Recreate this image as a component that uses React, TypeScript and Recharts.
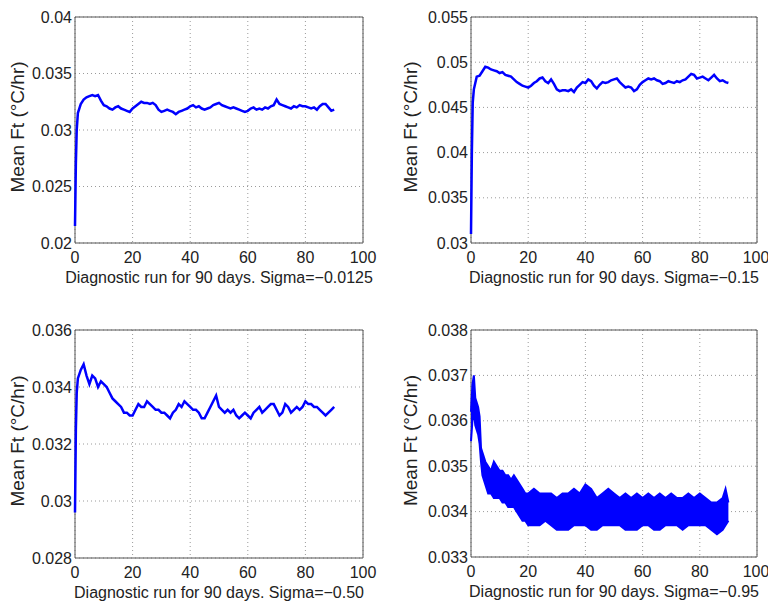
import { LineChart, Line, ComposedChart, Area, XAxis, YAxis, CartesianGrid, ReferenceArea } from "recharts";

// days sampled for the three single-line panels (denser at the start ramp)
const DAYS = [
  0, 0.3, 0.6, 1, 2, 3, 4, 5, 6, 7, 8, 9, 10,
  11, 12, 13, 14, 15, 16, 17, 18, 19, 20,
  21, 22, 23, 24, 25, 26, 27, 28, 29, 30,
  31, 32, 33, 34, 35, 36, 37, 38, 39, 40,
  41, 42, 43, 44, 45, 46, 47, 48, 49, 50,
  51, 52, 53, 54, 55, 56, 57, 58, 59, 60,
  61, 62, 63, 64, 65, 66, 67, 68, 69, 70,
  71, 72, 73, 74, 75, 76, 77, 78, 79, 80,
  81, 82, 83, 84, 85, 86, 87, 88, 89, 90,
];

const SIGMA_0125 = [
  0.0215, 0.027, 0.030, 0.0315, 0.0323, 0.0327, 0.0329, 0.0330, 0.0331, 0.0330, 0.0331, 0.0326, 0.0322,
  0.0321, 0.0319, 0.0318, 0.0320, 0.0321, 0.0319, 0.0318, 0.0317, 0.0316, 0.0319,
  0.0321, 0.0323, 0.0325, 0.0324, 0.0324, 0.0323, 0.0324, 0.0322, 0.0318, 0.0316,
  0.0317, 0.0318, 0.0317, 0.0316, 0.0314, 0.0316, 0.0317, 0.0318, 0.0319, 0.0321,
  0.0322, 0.0320, 0.0321, 0.0319, 0.0318, 0.0319, 0.0320, 0.0322, 0.0323, 0.0324,
  0.0322, 0.0321, 0.0320, 0.0319, 0.0320, 0.0319, 0.0318, 0.0317, 0.0316, 0.0317,
  0.0319, 0.0320, 0.0318, 0.0319, 0.0318, 0.0320, 0.0319, 0.0321, 0.0322, 0.0327,
  0.0323, 0.0322, 0.0321, 0.0320, 0.0319, 0.0321, 0.0320, 0.0322, 0.0321, 0.0321,
  0.0320, 0.0319, 0.0320, 0.0318, 0.0321, 0.0323, 0.0323, 0.0320, 0.0317, 0.0318,
];

const SIGMA_15 = [
  0.031, 0.040, 0.0455, 0.0470, 0.0484, 0.0485, 0.0490, 0.0495, 0.0494, 0.0492, 0.0491, 0.0490, 0.0488,
  0.0489, 0.0486, 0.0485, 0.0484, 0.0481, 0.0478, 0.0476, 0.0474, 0.0473, 0.0472,
  0.0474, 0.0477, 0.0479, 0.0482, 0.0483, 0.0479, 0.0477, 0.0481, 0.0476, 0.0470,
  0.0468, 0.0469, 0.0469, 0.0468, 0.0470, 0.0467, 0.0472, 0.0475, 0.0478, 0.0477,
  0.0481, 0.0479, 0.0474, 0.0471, 0.0475, 0.0478, 0.0477, 0.0478, 0.0480, 0.0481,
  0.0482, 0.0478, 0.0475, 0.0472, 0.0473, 0.0472, 0.0468, 0.0470, 0.0475, 0.0478,
  0.0480, 0.0482, 0.0481, 0.0482, 0.0480, 0.0479, 0.0476, 0.0477, 0.0479, 0.0478,
  0.0477, 0.0479, 0.0478, 0.0480, 0.0481, 0.0484, 0.0487, 0.0486, 0.0482, 0.0483,
  0.0484, 0.0482, 0.0480, 0.0483, 0.0486, 0.0482, 0.0479, 0.0480, 0.0478, 0.0477,
];

const SIGMA_50 = [
  0.0296, 0.0325, 0.0338, 0.0343, 0.0346, 0.0348, 0.0344, 0.0341, 0.0344, 0.0343, 0.0340, 0.0342, 0.0341,
  0.0340, 0.0338, 0.0336, 0.0335, 0.0334, 0.0333, 0.0331, 0.0331, 0.0330, 0.0330,
  0.0332, 0.0334, 0.0333, 0.0333, 0.0335, 0.0334, 0.0333, 0.0332, 0.0332, 0.0331,
  0.0331, 0.0330, 0.0329, 0.0331, 0.0332, 0.0334, 0.0333, 0.0335, 0.0334, 0.0333,
  0.0332, 0.0332, 0.0331, 0.0329, 0.0329, 0.0331, 0.0333, 0.0335, 0.0337, 0.0333,
  0.0332, 0.0331, 0.0332, 0.0331, 0.0332, 0.0330, 0.0329, 0.0330, 0.0331, 0.0330,
  0.0329, 0.0331, 0.0332, 0.0333, 0.0331, 0.0332, 0.0333, 0.0334, 0.0334, 0.0332,
  0.0330, 0.0331, 0.0334, 0.0333, 0.0331, 0.0332, 0.0333, 0.0332, 0.0333, 0.0335,
  0.0334, 0.0334, 0.0333, 0.0333, 0.0332, 0.0331, 0.0330, 0.0331, 0.0332, 0.0333,
];

// sigma = -0.95 is a noisy band, kept as lower / upper envelope
const BAND_DAYS = [
  0, 0.5, 1, 1.5, 2, 2.5, 3, 3.5, 4, 5, 6, 7, 8, 9, 10, 11, 12, 13, 14, 15, 16, 17, 18, 19, 20,
  22, 24, 26, 28, 30, 32, 34, 36, 38, 40, 42, 44, 46, 48, 50, 52, 54, 56, 58, 60,
  62, 64, 66, 68, 70, 72, 74, 76, 78, 80, 82, 84, 86, 88, 89, 90,
];
const BAND_LOW = [
  0.03555, 0.0360, 0.0362, 0.0359, 0.0358, 0.0357, 0.0355, 0.0351, 0.0348, 0.0346, 0.0344, 0.0344, 0.0343, 0.0343, 0.0343, 0.0342, 0.0342, 0.0341, 0.0341, 0.0341, 0.0340, 0.0339, 0.0338, 0.0338, 0.0337,
  0.0337, 0.0337, 0.0338, 0.0337, 0.0336, 0.0336, 0.0336, 0.0337, 0.0337, 0.0337, 0.0336, 0.0336, 0.0337, 0.0337, 0.0337, 0.0337, 0.0336, 0.0336, 0.0336, 0.0337,
  0.0337, 0.0336, 0.0336, 0.0337, 0.0337, 0.0337, 0.0336, 0.0337, 0.0337, 0.0337, 0.0337, 0.0336, 0.0335, 0.0336, 0.0337, 0.0338,
];
const BAND_HIGH = [
  0.0362, 0.0368, 0.0370, 0.0365, 0.0364, 0.0363, 0.0361, 0.0354, 0.0353, 0.0351, 0.0350, 0.0349, 0.0351, 0.0350, 0.0349, 0.0349, 0.0348, 0.0348, 0.0347, 0.0348, 0.0347, 0.0346, 0.0345, 0.0344, 0.0344,
  0.0345, 0.0344, 0.0344, 0.0344, 0.0343, 0.0344, 0.0344, 0.0345, 0.0344, 0.0346, 0.0345, 0.0343, 0.0344, 0.0345, 0.0344, 0.0343, 0.0344, 0.0343, 0.0344, 0.0343,
  0.0344, 0.0343, 0.0344, 0.0343, 0.0344, 0.0343, 0.0343, 0.0344, 0.0343, 0.0344, 0.0343, 0.0342, 0.0342, 0.0343, 0.0345, 0.0342,
];

const X_TICKS = [0, 20, 40, 60, 80, 100];
const Y_LABEL = "Mean Ft (°C/hr)";

const BLUE = "#0000ff";
const FONT = "'Liberation Sans', Arial, sans-serif";
const TICK = { fontSize: 16, fill: "#222", fontFamily: FONT };

const lineData = (values: number[]) => DAYS.map((day, i) => ({ day, value: values[i] }));
const bandData = BAND_DAYS.map((day, i) => ({ day, band: [BAND_LOW[i], BAND_HIGH[i]] }));

interface PanelProps {
  left: number;
  top: number;
  height: number;
  marginTop: number;
  marginBottom: number;
  marginRight: number;
  yWidth: number;
  yLabelDx: number;
  domain: [number, number];
  yTicks: number[];
  xLabel: string;
  data: object[];
  band?: boolean;
}

function Panel(p: PanelProps) {
  const axes = [
    <CartesianGrid key="g" strokeDasharray="1 3" stroke="#9a9a9a" />,
    <XAxis
      key="x"
      dataKey="day"
      type="number"
      domain={[0, 100]}
      ticks={X_TICKS}
      tick={TICK}
      tickLine={false}
      tickSize={3}
      tickMargin={6}
      axisLine={false}
      height={45}
      label={{ value: p.xLabel, position: "insideBottom", offset: 5, style: { ...TICK, textAnchor: "middle" } }}
    />,
    <YAxis
      key="y"
      type="number"
      domain={p.domain}
      ticks={p.yTicks}
      tick={TICK}
      tickLine={false}
      tickSize={3}
      tickMargin={0}
      axisLine={false}
      width={p.yWidth}
      label={{ value: Y_LABEL, angle: -90, position: "center", dx: p.yLabelDx, dy: -3, style: { ...TICK, fontSize: 19, textAnchor: "middle" } }}
    />,
    <ReferenceArea key="f" x1={0} x2={100} y1={p.domain[0]} y2={p.domain[1]} fill="none" stroke="#555" strokeWidth={1} />,
  ];
  const margin = { top: p.marginTop, right: p.marginRight, bottom: p.marginBottom, left: 0 };
  return (
    <div style={{ position: "absolute", left: p.left, top: p.top }}>
      {p.band ? (
        <ComposedChart width={384} height={p.height} data={p.data} margin={margin}>
          {axes}
          <Area dataKey="band" type="linear" stroke={BLUE} strokeWidth={2} fill={BLUE} fillOpacity={1} isAnimationActive={false} />
        </ComposedChart>
      ) : (
        <LineChart width={384} height={p.height} data={p.data} margin={margin}>
          {axes}
          <Line dataKey="value" type="linear" stroke={BLUE} strokeWidth={2.5} dot={false} isAnimationActive={false} />
        </LineChart>
      )}
    </div>
  );
}

export default function App() {
  return (
    <div style={{ position: "absolute", left: 0, top: 0, width: 768, height: 608, background: "#fff", fontFamily: FONT }}>
      <Panel
        left={0} top={0} height={300} marginTop={17} marginBottom={12} marginRight={21} yWidth={75} yLabelDx={-20}
        domain={[0.02, 0.04]} yTicks={[0.02, 0.025, 0.03, 0.035, 0.04]}
        xLabel="Diagnostic run for 90 days. Sigma=−0.0125" data={lineData(SIGMA_0125)}
      />
      <Panel
        left={384} top={0} height={300} marginTop={17} marginBottom={12} marginRight={11} yWidth={87} yLabelDx={-17}
        domain={[0.03, 0.055]} yTicks={[0.03, 0.035, 0.04, 0.045, 0.05, 0.055]}
        xLabel="Diagnostic run for 90 days. Sigma=−0.15" data={lineData(SIGMA_15)}
      />
      <Panel
        left={0} top={300} height={308} marginTop={30} marginBottom={5} marginRight={21} yWidth={75} yLabelDx={-20}
        domain={[0.028, 0.036]} yTicks={[0.028, 0.03, 0.032, 0.034, 0.036]}
        xLabel="Diagnostic run for 90 days. Sigma=−0.50" data={lineData(SIGMA_50)}
      />
      <Panel
        left={384} top={300} height={308} marginTop={30} marginBottom={6} marginRight={11} yWidth={87} yLabelDx={-17}
        domain={[0.033, 0.038]} yTicks={[0.033, 0.034, 0.035, 0.036, 0.037, 0.038]}
        xLabel="Diagnostic run for 90 days. Sigma=−0.95" data={bandData} band
      />
    </div>
  );
}
